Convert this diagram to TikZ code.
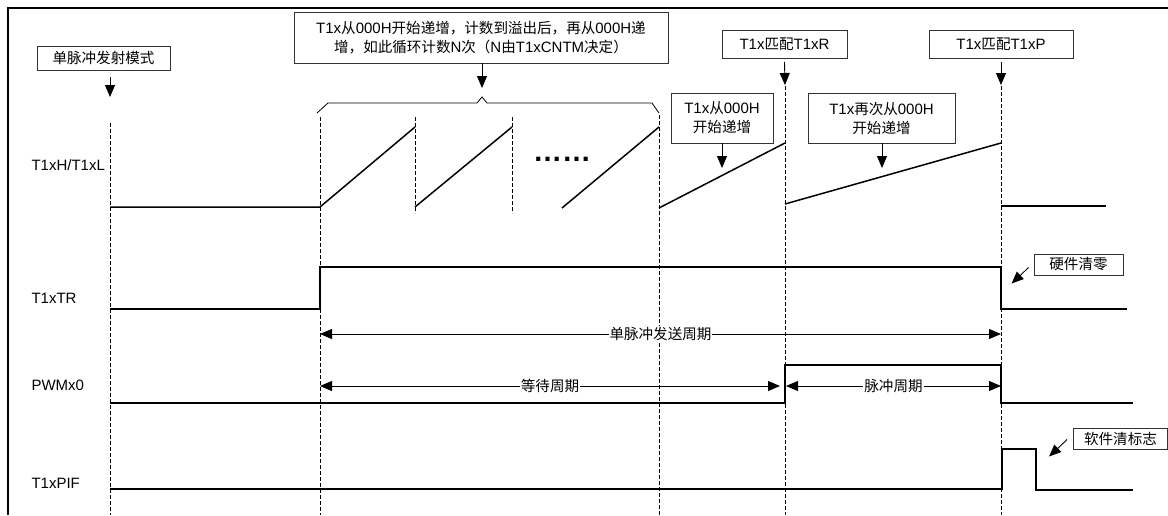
\documentclass[tikz,border=0pt]{standalone}
\usepackage{fontspec}
\setmainfont{Liberation Sans}
\newfontfamily\cjk[Scale=0.97]{Noto Sans CJK SC}
\newcommand\zh[1]{{\cjk#1}}
\usetikzlibrary{arrows.meta}
\tikzset{
  tip/.style={line width=0.9pt,-{Triangle[length=12pt,width=10pt]}},
  note/.style={draw=black!80,line width=0.8pt,fill=white,inner sep=0pt,align=center},
  wave/.style={line width=1.5pt},
  guide/.style={line width=1pt,dash pattern=on 4pt off 2pt},
  span/.style={line width=0.8pt,{Triangle[length=12pt,width=10pt]}-{Triangle[length=12pt,width=10pt]}},
  spanlabel/.style={fill=white,inner sep=1pt}
}
\begin{document}
\begin{tikzpicture}[x=1pt,y=-1pt,font=\fontsize{15}{19}\selectfont]
\useasboundingbox (0,0) rectangle (1168,515);
\draw[line width=2.5pt] (8,515) -- (8,8) -- (1168,8);
% guide lines
\draw[guide] (110,123) -- (110,515);
\draw[guide] (320,117) -- (320,515);
\draw[guide] (415,117) -- (415,213);
\draw[guide] (512,117) -- (512,213);
\draw[guide] (659,115) -- (659,515);
\draw[guide] (785,86) -- (785,515);
\draw[guide] (1001,86) -- (1001,515);
% signal names
\node[anchor=west] (cnt) at (28,165) {T1xH/T1xL};
\node[anchor=west] (run) at (28,298) {T1xTR};
\node[anchor=west] (pwm) at (28,385) {PWMx0};
\node[anchor=west] (flag) at (28,483) {T1xPIF};
% waveforms
\draw[wave] (110,207) -- (320,207) -- (415,127);
\draw[wave] (415,207) -- (512,127);
\draw[wave] (562,208) -- (659,127);
\draw[wave] (659,208) -- (785,143);
\draw[wave] (785,204) -- (1001,143);
\draw[wave] (1001,206) -- (1106,206);
\node[font=\bfseries\fontsize{29}{29}\selectfont] (dots) at (562,159) {……};
\draw[wave] (110,309) -- (320,309) -- (320,267) -- (1001,267)
  -- (1001,309) -- (1127,309);
\draw[wave] (110,403) -- (785,403) -- (785,365) -- (1001,365)
  -- (1001,403) -- (1133,403);
\draw[wave] (110,489) -- (1002,489) -- (1002,449) -- (1036,449)
  -- (1036,490) -- (1133,490);
% brace over the overflow cycles
\draw[line width=0.8pt] (317,113) -- (328,103) -- (477,103) -- (482,97)
  -- (487,103) -- (652,103) -- (659,113);
% notes
\node[note,minimum width=133pt,minimum height=24pt] (mode) at (103.5,58)
  {\zh{单脉冲发射模式}};
\node[note,minimum width=374pt,minimum height=51pt] (loop) at (481,37.5)
  {T1x\zh{从}000H\zh{开始递增，计数到溢出后，再从}000H\zh{递}\\
   \zh{增，如此循环计数}N\zh{次（}N\zh{由}T1xCNTM\zh{决定）}};
\node[note,minimum width=125pt,minimum height=28pt] (matchR) at (784.5,44.5)
  {T1x\zh{匹配}T1xR};
\node[note,minimum width=144pt,minimum height=28pt] (matchP) at (1001,44.5)
  {T1x\zh{匹配}T1xP};
\node[note,minimum width=102pt,minimum height=50pt] (first) at (722,118)
  {T1x\zh{从}000H\\\zh{开始递增}};
\node[note,minimum width=147pt,minimum height=50pt] (again) at (881.5,118)
  {T1x\zh{再次从}000H\\\zh{开始递增}};
\node[note,minimum width=89pt,minimum height=21pt] (hwclr) at (1078.5,264.5)
  {\zh{硬件清零}};
\node[note,minimum width=94pt,minimum height=21pt] (swclr) at (1120.5,438.5)
  {\zh{软件清标志}};
% pointers
\coordinate (modeTip) at (110,97);
\coordinate (loopTip) at (482,88);
\coordinate (matchRTip) at (785,85);
\coordinate (matchPTip) at (1001,85);
\coordinate (firstTip) at (722,168);
\coordinate (againTip) at (882,168);
\draw[tip] ([yshift=-7pt]modeTip |- mode.south) -- (modeTip);
\draw[tip] (loopTip |- loop.south) -- (loopTip);
\draw[tip] ([yshift=-3pt]matchR.south) -- (matchRTip);
\draw[tip] ([yshift=-3pt]matchP.south) -- (matchPTip);
\draw[tip] (first.south) -- (firstTip);
\draw[tip] (againTip |- again.south) -- (againTip);
\draw[tip] ([shift={(-5pt,-3pt)}]hwclr.west) -- ++(-17,16);
\draw[tip] ([shift={(-6pt,-1pt)}]swclr.west) -- ++(-18,17);
% periods
\coordinate (p0) at (320,334);
\coordinate (p1) at (1001,334);
\coordinate (w0) at (320,386);
\coordinate (w1) at (780,386);
\coordinate (h0) at (786,386);
\coordinate (h1) at (1001,386);
\draw[span] (p0) -- node[spanlabel] (total) {\zh{单脉冲发送周期}} (p1);
\draw[span] (w0) -- node[spanlabel] (wait) {\zh{等待周期}} (w1);
\draw[span] (h0) -- node[spanlabel] (pulse) {\zh{脉冲周期}} (h1);
\end{tikzpicture}
\end{document}
